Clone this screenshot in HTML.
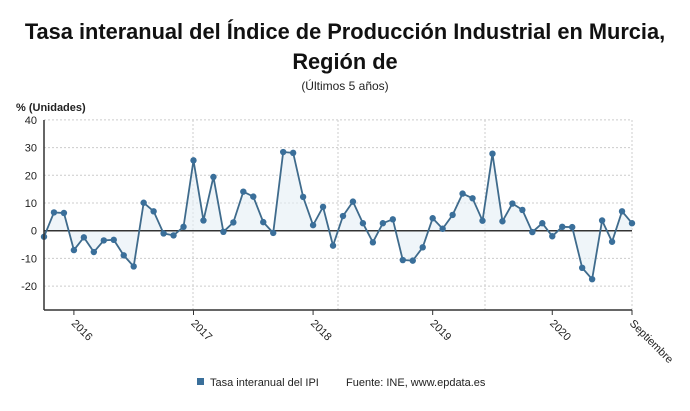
<!DOCTYPE html>
<html><head><meta charset="utf-8"><style>
body{margin:0;width:690px;height:406px;background:#fff;font-family:"Liberation Sans",sans-serif;overflow:hidden}
</style></head><body>
<svg width="690" height="406" id="svg">
<text x="345" y="39" text-anchor="middle" font-size="21.8" font-weight="bold" fill="#111">Tasa interanual del Índice de Producción Industrial en Murcia,</text>
<text x="345" y="69" text-anchor="middle" font-size="21.8" font-weight="bold" fill="#111">Región de</text>
<text x="345" y="90" text-anchor="middle" font-size="12" fill="#222">(Últimos 5 años)</text>
<text x="16" y="111" font-size="11" font-weight="bold" fill="#222">% (Unidades)</text>
<g id="grid"></g><g id="marks"></g><g id="axes"></g>
<rect x="197" y="378" width="7" height="7" fill="#3a6f9a"/>
<text x="210" y="386" font-size="11" fill="#222">Tasa interanual del IPI</text>
<text x="346" y="386" font-size="11" fill="#222">Fuente: INE, www.epdata.es</text>
</svg>
<script>
const values=[-2.2,6.6,6.4,-7,-2.4,-7.7,-3.5,-3.3,-8.9,-12.9,10.1,7,-1,-1.7,1.4,25.4,3.7,19.4,-0.4,3,14.1,12.3,3.1,-0.8,28.4,28.1,12.2,2,8.6,-5.4,5.3,10.5,2.7,-4.2,2.7,4.1,-10.6,-10.8,-6,4.5,0.7,5.7,13.4,11.7,3.6,27.8,3.4,9.8,7.5,-0.5,2.7,-2,1.4,1.3,-13.4,-17.5,3.7,-4,7,2.7];
const yTicks=[40,30,20,10,0,-10,-20];
const xTickLabels=["2016","2017","2018","2019","2020","Septiembre"];
const xTickIdx=[3,15,27,39,51,59];
const NS="http://www.w3.org/2000/svg";
const L=44,R=632,T=120,B=310;
const x=i=>L+i*(R-L)/(values.length-1);
const y=v=>230.7-v*2.77;
function mk(tag,attrs,parent){const e=document.createElementNS(NS,tag);for(const k in attrs)e.setAttribute(k,attrs[k]);parent.appendChild(e);return e;}
const grid=document.getElementById('grid'),marks=document.getElementById('marks'),axes=document.getElementById('axes');
yTicks.forEach(t=>{
  if(t!==0){const g=mk('line',{x1:L,x2:R,y1:y(t),y2:y(t),stroke:'#ccc','stroke-dasharray':'2,2'},grid);
  
  }
  const tx=mk('text',{x:37,y:y(t)+4,'text-anchor':'end','font-size':11,fill:'#222'},axes);tx.textContent=t;
  
  
});
[193,338,485,632].forEach(gx=>{const g=mk('line',{x1:gx,x2:gx,y1:T,y2:B,stroke:'#ccc','stroke-dasharray':'2,2'},grid);

});
let pts=values.map((v,i)=>x(i)+','+y(v)).join(' ');
const area=mk('polygon',{points:x(0)+','+y(0)+' '+pts+' '+x(values.length-1)+','+y(0),fill:'#e4eef5','fill-opacity':0.6},marks);


const zl=mk('line',{x1:L,x2:R,y1:y(0),y2:y(0),stroke:'#333','stroke-width':1.5},marks);


const line=mk('polyline',{points:pts,fill:'none',stroke:'#3f6b8c','stroke-width':1.8},marks);


values.forEach((v,i)=>{const c=mk('circle',{cx:x(i),cy:y(v),r:3.2,fill:'#3a6f9a'},marks);

});
const ya=mk('line',{x1:L,x2:L,y1:T,y2:B,stroke:'#333','stroke-width':1.5},axes);


const xa=mk('line',{x1:L,x2:R,y1:B,y2:B,stroke:'#333','stroke-width':1.5},axes);


xTickIdx.forEach((idx,k)=>{const tx=x(idx);
  const tk=mk('line',{x1:tx,x2:tx,y1:B,y2:B+5,stroke:'#333'},axes);
  
  
  const t=mk('text',{x:tx-3,y:B+14,'font-size':11,fill:'#222',transform:`rotate(45 ${tx-3} ${B+14})`},axes);
  t.textContent=xTickLabels[k];
  
  
});
</script>
</body></html>
